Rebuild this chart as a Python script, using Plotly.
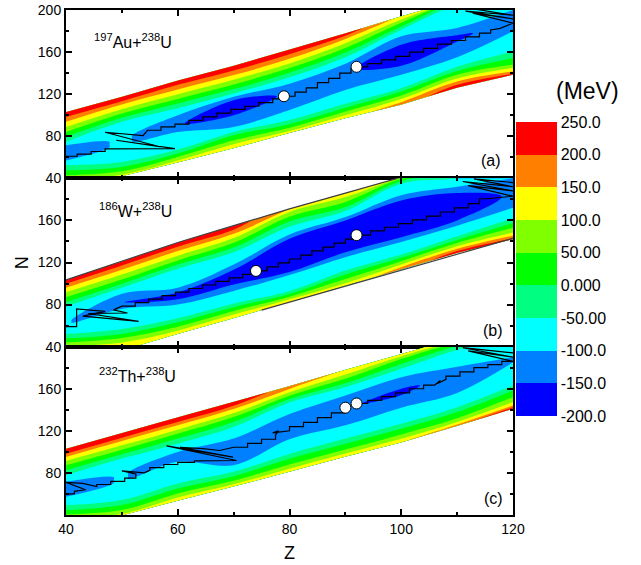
import plotly.graph_objects as go
from plotly.subplots import make_subplots

FONT = "Liberation Sans, Arial, sans-serif"

# ---------------- data ----------------
Z_cols = [40, 50, 60, 70, 80, 90, 100, 110, 120]

# node order in each column (bottom edge -> top edge):
# bot, lo200, lo150, lo100, lo50, lo0, lo-50, lo-100, lo-150, valley,
# up-150, up-100, up-50, up0, up50, up100, up150, up200, top
LEVEL_PATTERN = [None, 200, 150, 100, 50, 0, -50, -100, -150, None,
                 -150, -100, -50, 0, 50, 100, 150, 200, None]

# N position of each node (one row per Z column)
nodes_a = [
    [30, 30, 30, 38.5, 43, 47.6, 52.4, 57, 61, 62, 63, 71.4, 74.6, 79.4, 84.1, 88.9, 93.7, 98.4, 103],
    [42, 42, 42, 43.5, 46.7, 50.8, 55.5, 70, 72, 75, 78, 80, 93.7, 97.5, 101.6, 105.7, 110.2, 113.3, 117.5],
    [55, 55, 55, 57, 60.3, 63.5, 67.3, 84, 88, 90, 92, 100, 106.7, 111.1, 115.5, 120, 124.4, 128.9, 133],
    [68.5, 68.5, 68.5, 72.4, 76.2, 81, 84.1, 88.9, 100, 107, 114.3, 117.5, 120.6, 124.8, 129.2, 133.7, 138.1, 142.5, 147],
    [83, 83, 83, 85, 88, 91.5, 95.5, 105, 118, 121, 124, 130, 136, 140.3, 144.8, 149.2, 153.6, 158, 162.5],
    [97, 97, 97, 100, 103.5, 107, 111, 124, 138, 141, 144, 149, 155, 159.5, 164, 168.5, 172.5, 175.5, 178],
    [110, 110, 112.4, 115.5, 118.7, 122.5, 125.7, 138.4, 147, 158, 167, 175, 181.3, 184.4, 188, 191, 194, 194, 194],
    [126, 129, 132, 135, 138.5, 142, 146, 155, 170, 173, 176, 183, 204, 207, 208.5, 209, 209.5, 209.5, 209.5],
    [138.5, 139.5, 141.6, 144.8, 148, 154.3, 160.6, 179.7, 186, 190, 194, 200, 206, 210, 214, 217, 220, 222, 224],
]
# (energy at bottom edge, valley minimum, energy at top edge) per column
edges_a = [(140, -135, 240), (130, -90, 240), (130, -145, 240), (130, -185, 240), (130, -140, 240),
           (140, -140, 230), (170, -190, 140), (235, -160, 120), (245, -125, 240)]

nodes_b = [
    [21, 21, 21, 40.3, 44, 48, 52, 60, 61, 62, 63, 64, 78, 82.2, 87, 91.8, 95.9, 99.7, 103.5],
    [36.5, 36.5, 36.5, 44, 48.2, 52.1, 56.8, 75.9, 80, 82, 84, 90.2, 95.9, 99.7, 103.8, 108.6, 113, 117.1, 121],
    [52, 52, 52, 55.2, 59, 63.2, 67, 80, 85, 88, 91.5, 96, 114, 118, 122, 126.5, 131, 135, 139],
    [67, 67, 67, 70.5, 74, 77.5, 81, 93, 99, 106, 113, 118, 129.8, 134.3, 138.7, 143.2, 147.3, 151.1, 155],
    [82.5, 82.5, 82.5, 85, 87.5, 90, 93, 108, 111, 121, 142.5, 146.5, 154, 159, 163.5, 168, 171, 171, 171],
    [98, 98, 98, 100.3, 104.4, 108.6, 112.4, 125, 129.8, 145, 160, 163.2, 169, 172.7, 177.5, 182.2, 186, 186, 186],
    [113.5, 113.5, 115.6, 118.1, 121.3, 124.4, 127.6, 139.4, 144.1, 160, 179, 184, 194.9, 197.5, 199.5, 200.5, 201, 201, 201],
    [129, 131, 133, 135.5, 138.5, 141.5, 145, 155, 160, 173, 186, 192, 200, 204, 207, 210, 215, 215, 215],
    [142, 143, 145.5, 148.5, 153, 157.5, 162, 172, 180, 185, 190, 200, 210, 215, 219, 222, 225, 227, 229],
]
edges_b = [(140, -95, 240), (130, -148, 240), (130, -190, 240), (130, -205, 225), (130, -215, 150),
           (130, -215, 140), (170, -210, 130), (230, -190, 140), (245, -140, 240)]

nodes_c = [
    [29, 29, 29, 36.5, 40.5, 44.7, 49.4, 57.3, 61, 62, 63, 71.5, 77.8, 82.6, 87.3, 91.4, 95.2, 98.3, 103],
    [39.5, 39.5, 39.5, 41, 44.7, 49.4, 54.2, 70, 72, 75, 78, 80, 93.6, 97.7, 102.1, 106.2, 110.3, 113.5, 118],
    [53.5, 53.5, 53.5, 56.7, 60.5, 65.2, 70, 90.5, 93, 95, 97, 100, 107.8, 112.6, 117.3, 121.1, 125.2, 128.3, 132.8],
    [67, 67, 67, 69.3, 72.5, 76.9, 81, 87.3, 97, 100, 103, 112.6, 123.6, 128.4, 133.1, 136.9, 140.7, 143.8, 147.6],
    [81, 81, 81, 84, 88, 93.5, 98, 112, 123, 126, 129, 136, 147, 150.2, 153.4, 156.6, 159.8, 162.5, 162.5],
    [95.4, 95.4, 95.4, 98.4, 102.2, 107.8, 112.6, 125.2, 138, 141, 144, 153.6, 161.5, 165.3, 169.4, 173.5, 178, 178, 178],
    [109, 109, 109, 112.5, 116.6, 122, 126.8, 142, 154, 157, 160, 171, 178.9, 183.6, 188.3, 191, 193, 193, 193],
    [124.5, 124.5, 126, 128.5, 132, 137.8, 142.5, 156, 172, 175, 178, 181, 197, 201, 204, 206, 208, 208.5, 208.5],
    [141, 142.5, 144.1, 147.3, 152, 158.3, 163, 185, 185.5, 188, 189, 190, 210, 214, 217, 220, 222, 223, 224],
]
edges_c = [(140, -130, 240), (130, -95, 240), (130, -140, 240), (130, -145, 225), (130, -145, 185),
           (130, -148, 160), (150, -155, 130), (190, -140, 130), (245, -110, 130)]

# minimum-energy paths (Z, N)
path_a = [(40, 61), (42, 61), (42, 63), (44.5, 63), (44.5, 65.5), (47, 65.5), (47, 68),
          (59.5, 68.3), (49, 76.2), (56.8, 70), (47, 83.8), (53.8, 80.7), (54.6, 85.7),
          (57, 85.7), (57, 89), (59.5, 89), (59.5, 91.5), (62, 91.5), (62, 95), (64.5, 95), (64.5, 98.5),
          (67, 98.5), (67, 102), (69.5, 102), (69.5, 105.5), (72, 105.5), (72, 108.5), (74.5, 108.5),
          (74.5, 112), (77, 112), (77, 115.5), (79, 115.5), (79, 118),
          (81, 118), (81, 122), (83, 122), (83, 126), (85, 126), (85, 131), (87, 131), (87, 135),
          (89, 135), (89, 140), (91, 140), (91, 144), (92, 146),
          (94, 146), (94, 149), (96.5, 149), (96.5, 152.5), (99, 152.5), (99, 156), (101.5, 156),
          (101.5, 160), (104, 160), (104, 163.5), (106.5, 163.5), (106.5, 167.5), (109, 167.5),
          (109, 171), (111.5, 171), (111.5, 174.5), (114, 174.5), (114, 178), (116, 178), (116, 181),
          (117.7, 182.5), (120, 187.5), (112.8, 197), (120, 191.5), (111.5, 199), (120, 195), (113, 201)]

path_b = [(40, 59), (41.9, 59), (41.9, 76), (47, 73.5), (43, 69), (53, 64), (44, 71.5), (51, 72),
          (48.5, 75), (50, 78.5),
          (52.4, 78.5), (52.4, 81.9), (54.8, 81.9), (54.8, 85.2), (57.2, 85.2), (57.2, 88.6), (59.6, 88.6),
          (59.6, 91.9), (62, 91.9), (62, 95.3), (64.4, 95.3), (64.4, 98.6), (66.8, 98.6), (66.8, 102),
          (69.2, 102), (69.2, 105.3), (71.6, 105.3), (71.6, 108.7), (74, 108.7), (74, 112),
          (76, 112), (76, 115.8), (78, 115.8), (78, 119.6), (80, 119.6), (80, 123.3), (82, 123.3), (82, 127),
          (84, 127), (84, 131), (86, 131), (86, 134.7), (88, 134.7), (88, 138.5), (90, 138.5), (90, 142.2),
          (92, 142.2), (92, 146),
          (94.5, 146), (94.5, 150), (97, 150), (97, 153.5), (99.5, 153.5), (99.5, 157), (102, 157),
          (102, 160.5), (104.5, 160.5), (104.5, 164), (107, 164), (107, 168), (109.5, 168), (109.5, 172),
          (112, 172), (112, 176), (114, 176), (114, 180.6), (115.3, 180.6),
          (120, 183), (112, 193), (120, 188), (111, 197), (120, 192), (113, 199.5), (120, 196)]

path_c = [(40, 60), (41.5, 60), (41.5, 62.5), (43.5, 64), (40, 71), (43, 70), (45.5, 67), (45.5, 69),
          (48, 69), (48, 72), (50.5, 72), (50.5, 75), (52.5, 75), (52.5, 79), (50, 82), (54, 80),
          (55, 82.5), (55, 85), (57.5, 85), (57.5, 88), (60, 88), (60, 90), (63, 90), (63, 91.5),
          (70.5, 91.8), (58, 105.7), (69.9, 95), (60.4, 104.4), (64.5, 103), (67.5, 101.3), (70, 104.4),
          (72.5, 104.4), (72.5, 108), (75, 108), (75, 112), (77.5, 112), (77.5, 116), (78, 120), (77, 118),
          (80, 120), (80, 124), (82.5, 124), (82.5, 128), (85, 128), (85, 132.5), (87.5, 132.5),
          (87.5, 137), (90, 137), (90, 142), (92, 146),
          (94, 146), (94, 149), (96.5, 149), (96.5, 152.5), (99, 152.5), (99, 156), (101.5, 156),
          (101.5, 160), (104, 160), (104, 163.5), (106, 163.5), (107, 168), (106.5, 165), (108, 169),
          (108, 172), (110.5, 172), (110.5, 176), (113, 176), (113, 180), (115.5, 180), (115.5, 183),
          (118, 183), (118, 186), (120, 186), (112, 196), (120, 190), (111, 199), (120, 194)]

# projectile / target positions (Z, N)
nuclei_a = [(79, 118), (92, 146)]
nuclei_b = [(74, 112), (92, 146)]
nuclei_c = [(90, 142), (92, 146)]

# outlined band edges in panel (b)
edge_top_b = [(40, 103.5), (50, 121), (60, 139), (70, 155), (80, 171), (90, 186), (100, 201)]
edge_low_b = [(75, 74.8), (120, 143)]

reactions = ["<sup>197</sup>Au+<sup>238</sup>U", "<sup>186</sup>W+<sup>238</sup>U",
             "<sup>232</sup>Th+<sup>238</sup>U"]
panel_tags = ["(a)", "(b)", "(c)"]

cbar_levels = [-200, -150, -100, -50, 0, 50, 100, 150, 200, 250]
cbar_labels = ["-200.0", "-150.0", "-100.0", "-50.00", "0.000", "50.00", "100.0", "150.0", "200.0", "250.0"]
band_colors = ["#0000FF", "#0080FF", "#00FFFF", "#00FF80", "#00FF00",
               "#80FF00", "#FFFF00", "#FF8000", "#FF0000"]

# ---------------- build ----------------
fill_scale = [[0.0, band_colors[0]]] + [[0.1 * (k + 1), c] for k, c in enumerate(band_colors)] + [[1.0, "#FFFFFF"]]
bar_scale = []
for k, c in enumerate(band_colors):
    bar_scale.append([k / 9, c])
    bar_scale.append([(k + 1) / 9, c])


def node_values(e_bot, e_min, e_top):
    vals = []
    for j, lev in enumerate(LEVEL_PATTERN):
        if j == 0:
            v = e_bot
        elif j == 9:
            v = e_min
        elif j == 18:
            v = e_top
        elif j < 9:
            v = max(min(lev, e_bot), e_min)
        else:
            v = max(min(lev, e_top), e_min)
        vals.append(v)
    return vals


fig = make_subplots(rows=3, cols=1, shared_xaxes=True, vertical_spacing=0)

panels = [(nodes_a, edges_a, path_a, nuclei_a), (nodes_b, edges_b, path_b, nuclei_b),
          (nodes_c, edges_c, path_c, nuclei_c)]

hidden_axis = dict(showgrid=False, showline=False, showticklabels="none", startline=False,
                   endline=False, minorgridcount=0, smoothing=0)

nb = len(LEVEL_PATTERN)
for r, (nodes, edges, path, nuclei) in enumerate(panels, start=1):
    xa = "x" if r == 1 else f"x{r}"
    ya = "y" if r == 1 else f"y{r}"
    vals = [node_values(*e) for e in edges]
    X = [[Z_cols[i] for i in range(len(Z_cols))] for j in range(nb)]
    Y = [[nodes[i][j] for i in range(len(Z_cols))] for j in range(nb)]
    E = [[vals[i][j] for i in range(len(Z_cols))] for j in range(nb)]
    cid = f"carpet{r}"
    fig.add_trace(go.Carpet(a=Z_cols, b=list(range(nb)), x=X, y=Y, carpet=cid,
                            aaxis=hidden_axis, baxis=hidden_axis, xaxis=xa, yaxis=ya))
    fig.add_trace(go.Contourcarpet(carpet=cid, a=Z_cols, b=list(range(nb)), z=E,
                                   autocontour=False,
                                   contours=dict(start=-200, end=250, size=50, coloring="fill",
                                                 showlines=False),
                                   colorscale=fill_scale, showscale=False, line=dict(width=0),
                                   xaxis=xa, yaxis=ya))
    if r == 2:
        for edge in (edge_top_b, edge_low_b):
            fig.add_trace(go.Scatter(x=[p[0] for p in edge], y=[p[1] for p in edge], mode="lines",
                                     line=dict(color="#404040", width=1.2), showlegend=False,
                                     hoverinfo="skip", xaxis=xa, yaxis=ya))
    fig.add_trace(go.Scatter(x=[p[0] for p in path], y=[p[1] for p in path], mode="lines",
                             line=dict(color="black", width=1.2), showlegend=False,
                             hoverinfo="skip", xaxis=xa, yaxis=ya))
    fig.add_trace(go.Scatter(x=[p[0] for p in nuclei], y=[p[1] for p in nuclei], mode="markers",
                             marker=dict(size=11, color="white", line=dict(color="black", width=1)),
                             showlegend=False, hoverinfo="skip", xaxis=xa, yaxis=ya))

# colour bar
fig.add_trace(go.Scatter(x=[None], y=[None], mode="markers", showlegend=False, hoverinfo="skip",
                         marker=dict(color=[0], colorscale=bar_scale, cmin=-200, cmax=250,
                                     showscale=True,
                                     colorbar=dict(x=1.0067, xanchor="left", xpad=0,
                                                   y=0.487, yanchor="middle", ypad=0,
                                                   len=0.582, lenmode="fraction",
                                                   thickness=41, thicknessmode="pixels",
                                                   tickmode="array", tickvals=cbar_levels,
                                                   ticktext=cbar_labels, ticks="",
                                                   outlinewidth=0,
                                                   tickfont=dict(size=16, color="black", family=FONT)))))

ytexts = [["40", "80", "120", "160", "200"], ["40", "80", "120", "160", ""], ["", "80", "120", "160", ""]]
for r in range(1, 4):
    fig.update_xaxes(range=[40, 120], tickmode="array", tickvals=[40, 60, 80, 100, 120],
                     ticks="inside", ticklen=6, tickwidth=1.5, tickcolor="black",
                     minor=dict(tickvals=[50, 70, 90, 110], ticks="inside", ticklen=3,
                                tickwidth=1.5, tickcolor="black"),
                     showline=True, linewidth=2, linecolor="black", mirror="allticks",
                     showgrid=False, zeroline=False, automargin=False,
                     tickfont=dict(size=14, color="black", family=FONT), row=r, col=1)
    fig.update_yaxes(range=[40, 200], tickmode="array", tickvals=[40, 80, 120, 160, 200],
                     ticktext=ytexts[r - 1],
                     ticks="inside", ticklen=6, tickwidth=1.5, tickcolor="black",
                     minor=dict(tickvals=[60, 100, 140, 180], ticks="inside", ticklen=3,
                                tickwidth=1.5, tickcolor="black"),
                     showline=True, linewidth=2, linecolor="black", mirror="allticks",
                     showgrid=False, zeroline=False, automargin=False,
                     tickfont=dict(size=14, color="black", family=FONT), row=r, col=1)

ann = []
lab_pos = [(0.058, 0.815), (0.069, 0.81), (0.069, 0.83)]
tag_pos = [(0.951, 0.107), (0.955, 0.095), (0.957, 0.10)]
for r in range(1, 4):
    xd = "x domain" if r == 1 else f"x{r} domain"
    yd = "y domain" if r == 1 else f"y{r} domain"
    ann.append(dict(text=reactions[r - 1], xref=xd, yref=yd, x=lab_pos[r - 1][0], y=lab_pos[r - 1][1],
                    xanchor="left", yanchor="middle", showarrow=False,
                    font=dict(size=16, color="black", family=FONT)))
    ann.append(dict(text=panel_tags[r - 1], xref=xd, yref=yd, x=tag_pos[r - 1][0], y=tag_pos[r - 1][1],
                    xanchor="center", yanchor="middle", showarrow=False,
                    font=dict(size=16, color="black", family=FONT)))
ann.append(dict(text="N", xref="paper", yref="paper", x=-0.098, y=0.499, textangle=-90,
                xanchor="center", yanchor="middle",
                showarrow=False, font=dict(size=18, color="black", family=FONT)))
ann.append(dict(text="Z", xref="paper", yref="paper", x=0.499, y=-0.075,
                xanchor="center", yanchor="middle",
                showarrow=False, font=dict(size=18, color="black", family=FONT)))
ann.append(dict(text="(MeV)", xref="paper", yref="paper", x=1.166, y=0.8396,
                xanchor="center", yanchor="middle",
                showarrow=False, font=dict(size=23, color="black", family=FONT)))

fig.update_layout(width=641, height=565, margin=dict(l=66, r=128, t=10, b=50, autoexpand=False),
                  paper_bgcolor="white", plot_bgcolor="white", showlegend=False,
                  annotations=ann, font=dict(family=FONT, color="black"))

fig.write_html("out.html")
